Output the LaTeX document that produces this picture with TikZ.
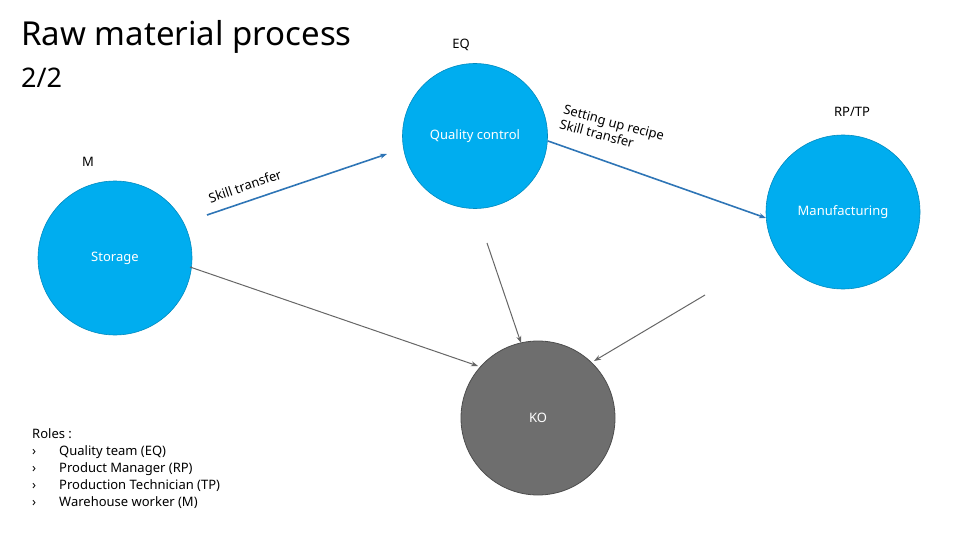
\documentclass[tikz,border=0pt]{standalone}
\usepackage{fontspec}
\setmainfont{Noto Sans}
\usetikzlibrary{arrows.meta}
\definecolor{cblue}{HTML}{00ADEF}
\definecolor{lblue}{HTML}{2E75B6}
\definecolor{kgray}{HTML}{6E6E6E}
\tikzset{
 circ/.style={circle,fill=cblue,draw=cblue!80!black,line width=0.6pt,minimum size=#1,inner sep=0pt},
 bluearr/.style={draw=lblue,line width=1.6pt,-{Stealth[length=7pt,width=5pt]}},
 grayarr/.style={draw=gray!80!black,line width=1pt,-{Stealth[length=7pt,width=5pt]}},
 lbl/.style={font=\fontsize{13}{15}\selectfont,inner sep=0pt},
 wlbl/.style={font=\fontsize{13}{15}\selectfont,text=white,inner sep=0pt}
}
\begin{document}
\begin{tikzpicture}[x=1pt,y=-1pt]
\useasboundingbox (0,0) rectangle (960,540);
\node[anchor=west,font=\fontsize{33}{38}\selectfont,inner sep=0pt] (title) at (21,37) {Raw material process};
\node[anchor=west,font=\fontsize{27}{30}\selectfont,inner sep=0pt] (sub) at (21,78) {2/2};
\node[circ=145pt] (qc) at (475,136) {};
\node[wlbl] (qct) at (475,136) {Quality control};
\node[circ=154pt] (st) at (115,258) {};
\node[wlbl,anchor=west] (stt) at (91,258) {Storage};
\node[circ=154pt] (mf) at (843,212) {};
\node[wlbl] (mft) at (843,212) {Manufacturing};
\node[circle,fill=kgray,draw=kgray!70!black,line width=0.8pt,minimum size=154pt,inner sep=0pt] (ko) at (538,418) {};
\node[wlbl] (kot) at (538,418) {KO};
\node[lbl] (eq) at (461,45) {EQ};
\node[lbl] (rp) at (852,112) {RP/TP};
\node[lbl] (m) at (88,162) {M};
\coordinate (a1) at (207,215); \coordinate (a2) at (387,154);
\draw[bluearr] (a1) -- (a2);
\node[lbl,rotate=19] (sk) at (245,186) {Skill transfer};
\coordinate (b1) at (548,141); \coordinate (b2) at (766,218);
\draw[bluearr] (b1) -- (b2);
\node[lbl,rotate=-15,align=left] (su) at (612,130) {Setting up recipe\\Skill transfer};
\coordinate (c1) at (190,267); \coordinate (c2) at (478,366);
\draw[grayarr] (c1) -- (c2);
\coordinate (d1) at (487,243); \coordinate (d2) at (521,343);
\draw[grayarr] (d1) -- (d2);
\coordinate (e1) at (705,295); \coordinate (e2) at (594,361);
\draw[grayarr] (e1) -- (e2);
\node[anchor=north west,align=left,font=\fontsize{13}{17}\selectfont,inner sep=0pt] (roles) at (32,428)
 {Roles :\\
 \makebox[27pt][l]{\bfseries\char"203A}Quality team (EQ)\\
 \makebox[27pt][l]{\bfseries\char"203A}Product Manager (RP)\\
 \makebox[27pt][l]{\bfseries\char"203A}Production Technician (TP)\\
 \makebox[27pt][l]{\bfseries\char"203A}Warehouse worker (M)};
\end{tikzpicture}
\end{document}
